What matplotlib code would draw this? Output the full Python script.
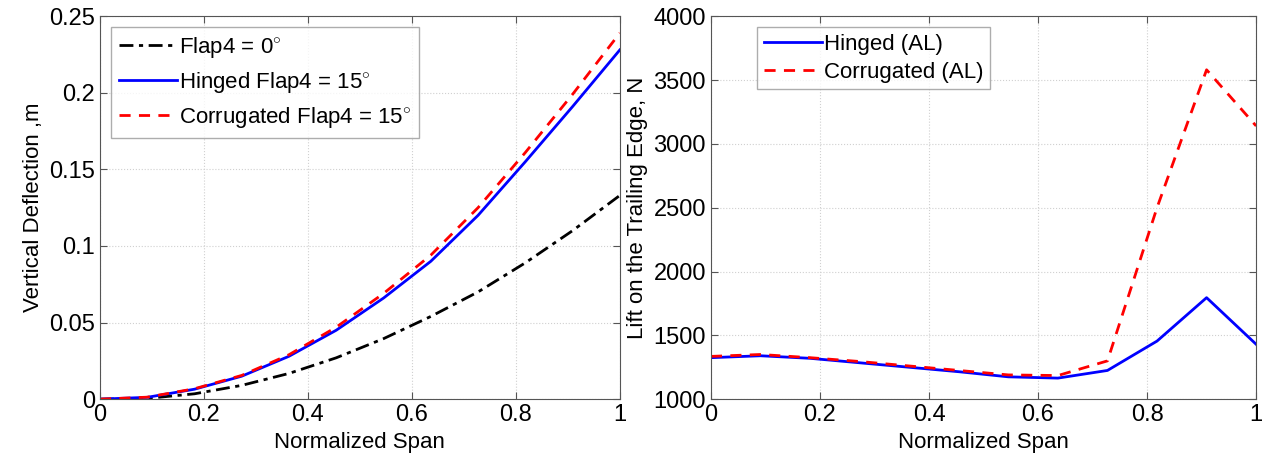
import matplotlib
matplotlib.use("Agg")
import matplotlib.pyplot as plt

plt.rcParams["font.family"] = ["Liberation Sans", "DejaVu Sans"]
plt.rcParams["mathtext.fontset"] = "custom"
plt.rcParams["mathtext.rm"] = "Liberation Sans"

# span stations (normalized)
span = [0, 0.0909, 0.1818, 0.2727, 0.3636, 0.4545, 0.5455, 0.6364, 0.7273, 0.8182, 0.9091, 1.0]

# vertical deflection, m
defl_flap0 = [0, 0.0005, 0.0035, 0.0090, 0.0168, 0.0270, 0.0395, 0.0540, 0.0700, 0.0890, 0.1100, 0.1330]
defl_hinged = [0, 0.0012, 0.0065, 0.0150, 0.0280, 0.0450, 0.0660, 0.0900, 0.1200, 0.1550, 0.1910, 0.2280]
defl_corr = [0, 0.0013, 0.0068, 0.0155, 0.0290, 0.0470, 0.0690, 0.0940, 0.1250, 0.1610, 0.1990, 0.2390]

# lift on trailing edge, N
lift_hinged = [1325, 1340, 1320, 1285, 1250, 1215, 1175, 1165, 1225, 1455, 1795, 1430]
lift_corr = [1335, 1350, 1325, 1295, 1260, 1225, 1190, 1185, 1300, 2500, 3580, 3140]

fig = plt.figure(figsize=(12.65, 4.62), dpi=100)
ax1 = fig.add_axes([0.079, 0.136, 0.411, 0.829])
ax2 = fig.add_axes([0.562, 0.136, 0.431, 0.829])

ax1.plot(span, defl_flap0, color="black", ls=(0, (5, 2, 1.5, 2)), lw=2, label=r"Flap4 = 0$^{\circ}$")
ax1.plot(span, defl_hinged, color="blue", ls="-", lw=2, label=r"Hinged Flap4 = 15$^{\circ}$")
ax1.plot(span, defl_corr, color="red", ls=(0, (4, 3)), lw=2, label=r"Corrugated Flap4 = 15$^{\circ}$")
ax1.set_xlim(0, 1)
ax1.set_ylim(0, 0.25)
ax1.set_xticks([0, 0.2, 0.4, 0.6, 0.8, 1])
ax1.set_xticklabels(["0", "0.2", "0.4", "0.6", "0.8", "1"])
ax1.set_yticks([0, 0.05, 0.1, 0.15, 0.2, 0.25])
ax1.set_yticklabels(["0", "0.05", "0.1", "0.15", "0.2", "0.25"])
ax1.set_xlabel("Normalized Span", fontsize=16)
ax1.set_ylabel("Vertical Deflection ,m", fontsize=16)
ax1.legend(loc="upper left", fontsize=16, fancybox=False, edgecolor="#999999",
           handlelength=2.6, handletextpad=0.1, borderaxespad=0.5, borderpad=0.35,
           labelspacing=0.45)

ax2.plot(span, lift_hinged, color="blue", ls="-", lw=2, label="Hinged (AL)")
ax2.plot(span, lift_corr, color="red", ls=(0, (4, 3)), lw=2, label="Corrugated (AL)")
ax2.set_xlim(0, 1)
ax2.set_ylim(1000, 4000)
ax2.set_xticks([0, 0.2, 0.4, 0.6, 0.8, 1])
ax2.set_xticklabels(["0", "0.2", "0.4", "0.6", "0.8", "1"])
ax2.set_yticks([1000, 1500, 2000, 2500, 3000, 3500, 4000])
ax2.set_xlabel("Normalized Span", fontsize=16)
ax2.set_ylabel("Lift on the Trailing Edge, N", fontsize=16)
ax2.legend(loc="upper left", fontsize=16, fancybox=False, edgecolor="#999999",
           handlelength=2.6, handletextpad=0.1, borderaxespad=0.5, borderpad=0.3,
           labelspacing=0.3, bbox_to_anchor=(0.065, 1.0))

for ax in (ax1, ax2):
    ax.grid(True, ls=":", color="#d0d0d0", lw=0.8)
    ax.tick_params(direction="in", top=True, right=True, labelsize=17, length=5,
                   color="#555555")
    for s in ax.spines.values():
        s.set_color("#555555")

fig.savefig("out.png", dpi=100)
